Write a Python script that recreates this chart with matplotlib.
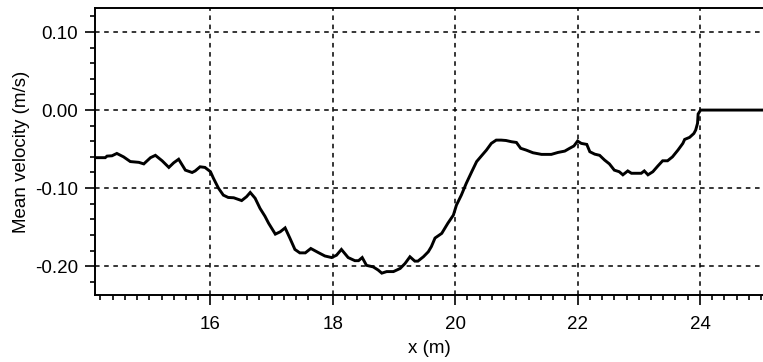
import matplotlib
matplotlib.use("Agg")
import matplotlib.pyplot as plt
from matplotlib.ticker import MultipleLocator, FormatStrFormatter

# Mean velocity profile along the channel
x_m = [14.12, 14.28, 14.31, 14.39, 14.47, 14.58, 14.69, 14.83, 14.91, 15.02,
       15.10, 15.21, 15.32, 15.40, 15.48, 15.59, 15.70, 15.75, 15.83, 15.91,
       16.00, 16.05, 16.13, 16.21, 16.29, 16.38, 16.51, 16.59, 16.65, 16.73,
       16.81, 16.89, 16.95, 17.06, 17.14, 17.22, 17.30, 17.38, 17.46, 17.55,
       17.64, 17.76, 17.87, 17.98, 18.06, 18.14, 18.25, 18.36, 18.42, 18.48,
       18.55, 18.66, 18.74, 18.80, 18.88, 18.99, 19.10, 19.18, 19.26, 19.34,
       19.39, 19.48, 19.56, 19.61, 19.67, 19.78, 19.88, 19.97, 20.02, 20.10,
       20.18, 20.27, 20.35, 20.43, 20.51, 20.59, 20.67, 20.75, 20.83, 20.92,
       21.00, 21.07, 21.16, 21.27, 21.41, 21.57, 21.68, 21.79, 21.87, 21.94,
       22.00, 22.06, 22.15, 22.20, 22.28, 22.36, 22.44, 22.52, 22.60, 22.68,
       22.74, 22.82, 22.88, 23.04, 23.09, 23.15, 23.23, 23.31, 23.39, 23.47,
       23.55, 23.64, 23.72, 23.75, 23.83, 23.90, 23.93, 23.96, 23.97, 24.01,
       24.07, 25.03]
velocity = [-0.061, -0.061, -0.059, -0.0586, -0.0556, -0.060, -0.066, -0.067, -0.069, -0.061,
            -0.058, -0.065, -0.0735, -0.0675, -0.063, -0.077, -0.080, -0.078, -0.0727, -0.0735,
            -0.079, -0.0876, -0.100, -0.109, -0.112, -0.1124, -0.116, -0.111, -0.1056, -0.113,
            -0.126, -0.136, -0.145, -0.159, -0.156, -0.151, -0.1645, -0.1786, -0.183, -0.183,
            -0.1774, -0.1825, -0.187, -0.189, -0.186, -0.1786, -0.189, -0.193, -0.193, -0.189,
            -0.199, -0.201, -0.205, -0.209, -0.207, -0.207, -0.203, -0.1966, -0.188, -0.1936,
            -0.1936, -0.188, -0.1816, -0.175, -0.164, -0.158, -0.145, -0.1346, -0.1218, -0.109,
            -0.094, -0.079, -0.066, -0.0586, -0.0513, -0.0427, -0.0385, -0.0385, -0.039, -0.0406,
            -0.0415, -0.049, -0.0513, -0.0547, -0.0568, -0.0568, -0.0543, -0.0526, -0.049, -0.046,
            -0.0397, -0.0427, -0.044, -0.0534, -0.0565, -0.058, -0.064, -0.069, -0.077, -0.079,
            -0.083, -0.078, -0.081, -0.081, -0.078, -0.083, -0.079, -0.0718, -0.065, -0.065,
            -0.060, -0.0513, -0.0427, -0.0376, -0.035, -0.030, -0.0256, -0.017, -0.005, 0.0,
            0.0, 0.0]

x_ticks = [16, 18, 20, 22, 24]
y_ticks = [-0.20, -0.10, 0.00, 0.10]

plt.rcParams["font.family"] = ["Liberation Sans", "DejaVu Sans"]
plt.rcParams["axes.unicode_minus"] = False

fig = plt.figure(figsize=(7.63, 3.62), dpi=100)
ax = fig.add_axes([95 / 763, 1 - 295 / 362, 1 - 95 / 763, (295 - 8) / 362])

ax.plot(x_m, velocity, color="black", linewidth=2.1, solid_joinstyle="miter", zorder=3)

ax.set_xlim(14.113, 25.03)
ax.set_ylim(-0.237, 0.1308)

ax.set_xticks(x_ticks)
ax.set_yticks(y_ticks)
ax.xaxis.set_minor_locator(MultipleLocator(0.2))
ax.yaxis.set_minor_locator(MultipleLocator(0.02))
ax.yaxis.set_major_formatter(FormatStrFormatter("%.2f"))

ax.grid(True, which="major", color="black", linestyle=(0, (3, 3)), linewidth=1.1)

for side in ("left", "bottom", "top"):
    ax.spines[side].set_linewidth(1.4)
ax.spines["right"].set_visible(False)

ax.tick_params(which="major", direction="out", length=7, width=1.2,
               labelsize=13.5, color="black")
ax.tick_params(which="minor", direction="out", length=3.8, width=1.2, color="black")
ax.tick_params(axis="y", which="major", pad=5)
ax.tick_params(axis="x", which="major", pad=8)

ax.set_xlabel("x (m)", fontsize=13.5, labelpad=5)
ax.set_ylabel("Mean velocity (m/s)", fontsize=13.5, labelpad=4)

fig.savefig("out.png", dpi=100)
